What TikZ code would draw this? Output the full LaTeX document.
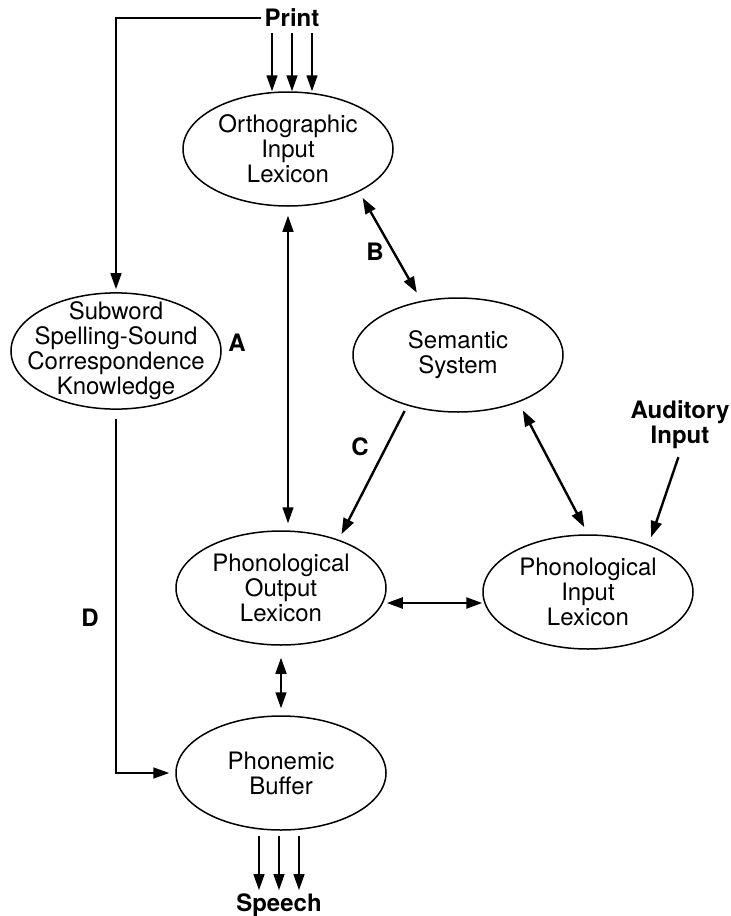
\documentclass[tikz,border=0pt]{standalone}
\usepackage{fontspec}
\setmainfont{TeX Gyre Heros}
\usetikzlibrary{arrows.meta,shapes.geometric}

\begin{document}
\begin{tikzpicture}[x=0.5pt,y=-0.5pt,
  box/.style={draw, ellipse, line width=0.75pt, minimum width=105pt, minimum height=57pt,
    inner sep=0pt, align=center, font=\fontsize{12}{12.5}\selectfont},
  lbl/.style={font=\fontsize{12}{12.5}\selectfont\bfseries, align=center, inner sep=1.5pt},
  arr/.style={line width=0.75pt, -{Triangle[length=8pt,width=5.5pt]}},
  dbl/.style={line width=0.75pt, {Triangle[length=8pt,width=5.5pt]}-{Triangle[length=8pt,width=5.5pt]}},
  heavy/.style={line width=1.2pt}]
\useasboundingbox (0,0) rectangle (730,916);
\node[box] (orth) at (288,149) {Orthographic\\Input\\Lexicon};
\node[box, inner xsep=-8pt, inner ysep=-4pt] (sub) at (116,351) {Subword\\Spelling-Sound\\Correspondence\\Knowledge};
\node[box] (sem) at (458,355) {Semantic\\System};
\node[box] (out) at (281,588) {Phonological\\Output\\Lexicon};
\node[box] (pin) at (588,592) {Phonological\\Input\\Lexicon};
\node[box] (buf) at (281,773) {Phonemic\\Buffer};
\node[lbl] (print) at (292,18) {Print};
\node[lbl] (speech) at (279,905) {Speech};
\node[lbl] (aud) at (680,425) {Auditory\\Input};
\node[lbl] (labA) at (237,343) {A};
\node[lbl] (labB) at (375,252) {B};
\node[lbl] (labC) at (360,447) {C};
\node[lbl] (labD) at (90,618) {D};
\foreach \dx in {-10,0,10}{
  \draw[arr, shorten <=1.5pt] ([xshift=\dx pt]print.south) -- ([xshift=\dx pt]print.south |- orth.north);
}
\foreach \dx in {-10,0,10}{
  \draw[arr, shorten <=2.5pt] ([xshift=\dx pt]speech.north |- buf.south) -- ([xshift=\dx pt]speech.north);
}
\draw[arr, shorten >=1.5pt] (print.west) -| (sub.north);
\draw[arr, shorten <=4.5pt, shorten >=3pt] (sub.south) |- (buf.west);
\draw[dbl, shorten <=4.5pt, shorten >=3.5pt] (orth.south) -- (orth.south |- out.north);
\draw[dbl, heavy, shorten <=3.5pt, shorten >=4.7pt] (orth.-31) -- (sem.124);
\draw[arr, heavy, shorten <=3pt, shorten >=3pt] (sem.225) -- (out.40);
\draw[dbl, heavy, shorten <=4.5pt, shorten >=4pt] (sem.-38) -- (pin.north);
\draw[arr, heavy, shorten <=2.5pt, shorten >=4pt] (aud.south) -- (pin.38);
\draw[dbl, heavy] ([yshift=-7.5pt]out.east) -- ([yshift=-7.5pt]out.east -| pin.west);
\draw[dbl, shorten <=6pt, shorten >=3.5pt] (out.south) -- (buf.north);
\end{tikzpicture}
\end{document}
